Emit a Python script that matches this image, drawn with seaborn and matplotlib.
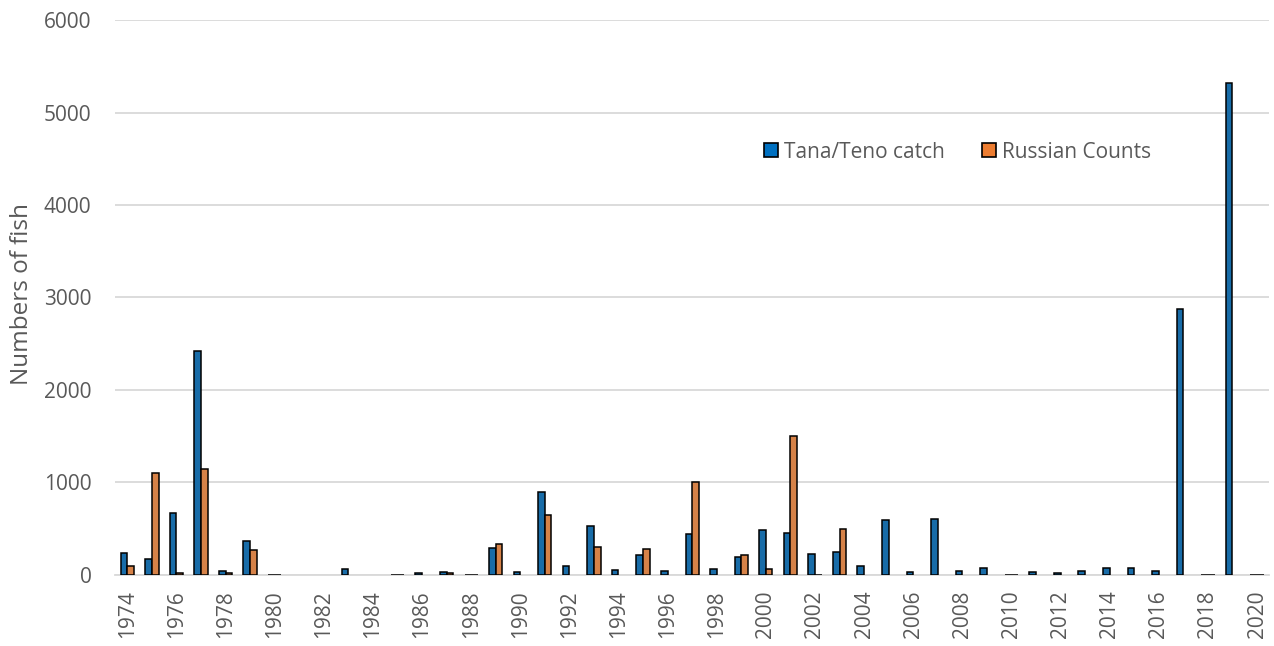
import numpy as np
import pandas as pd
import matplotlib
matplotlib.use("Agg")
import matplotlib.pyplot as plt
from matplotlib.patches import Patch
import seaborn as sns

nan = np.nan

# years on the category axis
years = [1974, 1975, 1976, 1977, 1978, 1979, 1980, 1981, 1982, 1983,
         1984, 1985, 1986, 1987, 1988, 1989, 1990, 1991, 1992, 1993,
         1994, 1995, 1996, 1997, 1998, 1999, 2000, 2001, 2002, 2003,
         2004, 2005, 2006, 2007, 2008, 2009, 2010, 2011, 2012, 2013,
         2014, 2015, 2016, 2017, 2018, 2019, 2020]

# Tana/Teno catch
tana = [235, 176, 667, 2421, 47, 371, 0, nan, nan, 62,
        nan, 0, 25, 28, 0, 292, 36, 897, 101, 533,
        54, 216, 43, 440, 62, 198, 486, 450, 227, 245,
        101, 595, 29, 602, 47, 79, 0, 32, 20, 40,
        79, 76, 47, 2876, 0, 5322, 0]

# Russian counts
russian = [97, 1100, 20, 1146, 25, 270, 0, nan, nan, nan,
           nan, 0, nan, 18, 0, 339, nan, 649, nan, 303,
           nan, 281, nan, 1000, nan, 220, 68, 1500, 0, 500,
           nan, nan, nan, nan, nan, nan, 0, nan, nan, nan,
           nan, nan, nan, nan, 0, nan, 0]

series_names = ["Tana/Teno catch", "Russian Counts"]
colors = ["#0070C0", "#ED7D31"]
yticks = [0, 1000, 2000, 3000, 4000, 5000, 6000]
xtick_years = years[::2]

grey = "#595959"

df = pd.DataFrame({
    "year": [str(y) for y in years] * 2,
    "series": [series_names[0]] * len(years) + [series_names[1]] * len(years),
    "fish": tana + russian,
}).dropna()

sns.set_style("white")
plt.rcParams["font.family"] = ["Open Sans", "DejaVu Sans"]

fig = plt.figure(figsize=(12.74, 6.46), dpi=100)
ax = fig.add_axes([0.0903, 0.110, 0.906, 0.859])

sns.barplot(data=df, x="year", y="fish", hue="series",
            order=[str(y) for y in years], hue_order=series_names,
            palette=colors, width=0.54, edgecolor="black", linewidth=1.1,
            errorbar=None, legend=False, ax=ax, zorder=3)

ax.set_ylim(0, 6000)
ax.set_xlim(-0.5, len(years) - 0.5)
ax.set_yticks(yticks)
ax.set_yticklabels([str(v) for v in yticks], fontsize=15, color=grey)
ax.set_xticks([years.index(y) for y in xtick_years])
ax.set_xticklabels([str(y) for y in xtick_years], rotation=90, fontsize=15, color=grey)
ax.tick_params(axis="y", length=0, pad=17)
ax.tick_params(axis="x", length=0, pad=11)

ax.grid(axis="y", color="#D9D9D9", linewidth=1.3, zorder=0)
ax.set_axisbelow(True)
for s in ["top", "right", "left"]:
    ax.spines[s].set_visible(False)
ax.spines["bottom"].set_color("#D9D9D9")
ax.spines["bottom"].set_linewidth(1.3)

ax.set_xlabel("")
ax.set_ylabel("Numbers of fish", fontsize=17.5, color=grey)
ax.yaxis.set_label_coords(-0.070, 0.506)

handles = [Patch(facecolor=c, edgecolor="black", linewidth=1.2) for c in colors]
ax.legend(handles, series_names, loc="center", bbox_to_anchor=(0.73, 0.762),
          ncol=2, frameon=False, fontsize=15, labelcolor=grey,
          handlelength=0.65, handleheight=0.65, handletextpad=0.3, columnspacing=1.8)

fig.savefig("out.png", dpi=100)
